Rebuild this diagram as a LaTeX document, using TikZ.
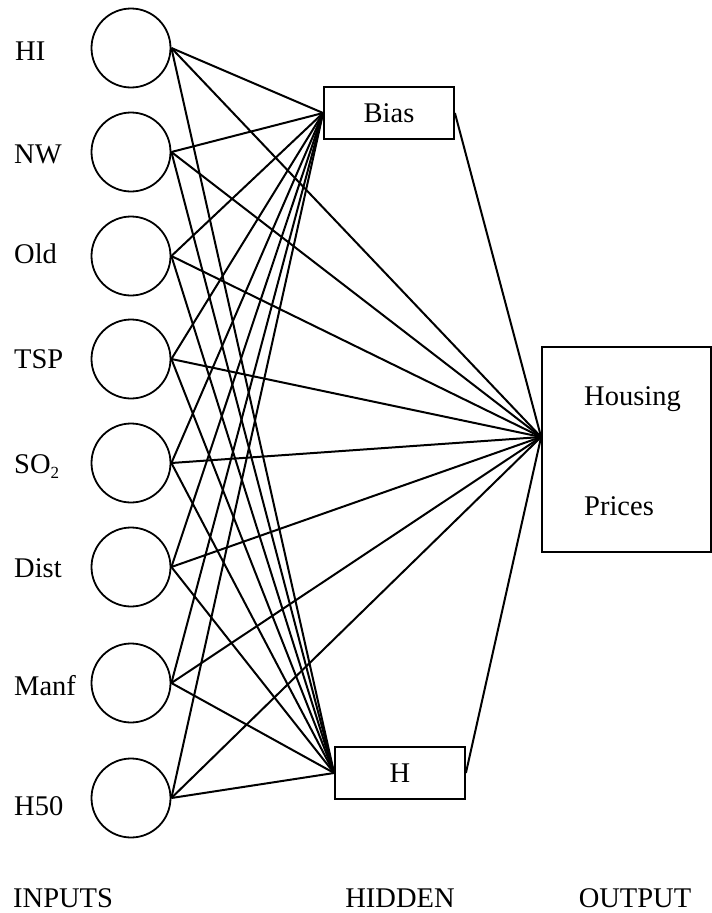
\documentclass[tikz,border=0pt]{standalone}
\usepackage{fontspec}
\setmainfont{Liberation Serif}
\begin{document}
\begin{tikzpicture}[x=1pt,y=-1pt,
  font=\fontsize{28.5}{33}\selectfont,
  inp/.style={circle,draw,line width=1.8pt,minimum size=79pt,inner sep=0pt},
  hbox/.style={rectangle,draw,line width=1.8pt,minimum width=130pt,minimum height=52pt,inner sep=0pt},
  lab/.style={anchor=base west,inner sep=0pt},
  wire/.style={line width=2pt}]
\useasboundingbox (0,0) rectangle (712,913);
% input circles
\node[inp] (i1) at (131,48) {};
\node[inp] (i2) at (131,152) {};
\node[inp] (i3) at (131,256) {};
\node[inp] (i4) at (131,359) {};
\node[inp] (i5) at (131,463) {};
\node[inp] (i6) at (131,567) {};
\node[inp] (i7) at (131,683) {};
\node[inp] (i8) at (131,798) {};
% labels
\node[lab] (l1) at (15,60) {HI};
\node[lab] (l2) at (14,163) {NW};
\node[lab] (l3) at (14,263) {Old};
\node[lab] (l4) at (14,368) {TSP};
\node[lab] (l5) at (14,473) {SO\raisebox{-5pt}{\fontsize{17}{17}\selectfont 2}};
\node[lab] (l6) at (14,577) {Dist};
\node[lab] (l7) at (14,695) {Manf};
\node[lab] (l8) at (14,815) {H50};
% hidden
\node[hbox] (bias) at (389,113) {Bias};
\node[hbox] (h) at (400,773) {H};
% output
\node[rectangle,draw,line width=1.8pt,minimum width=169pt,minimum height=205pt,inner sep=0pt] (out) at (626.5,449.5) {};
\coordinate (oin) at ([yshift=12.5pt]out.west);
\node[lab] (t1) at (584,405) {Housing};
\node[lab] (t2) at (584,515) {Prices};
% wires
\foreach \i in {1,...,8}{
  \draw[wire] (i\i.east) -- (bias.west);
  \draw[wire] (i\i.east) -- (h.west);
  \draw[wire] (i\i.east) -- (oin);
}
\draw[wire] (bias.east) -- (oin);
\draw[wire] (h.east) -- (oin);
% column titles
\node[lab] (c1) at (13,907) {INPUTS};
\node[anchor=base,inner sep=0pt] (c2) at (400,907) {HIDDEN};
\node[anchor=base,inner sep=0pt] (c3) at (635,907) {OUTPUT};
\end{tikzpicture}
\end{document}
